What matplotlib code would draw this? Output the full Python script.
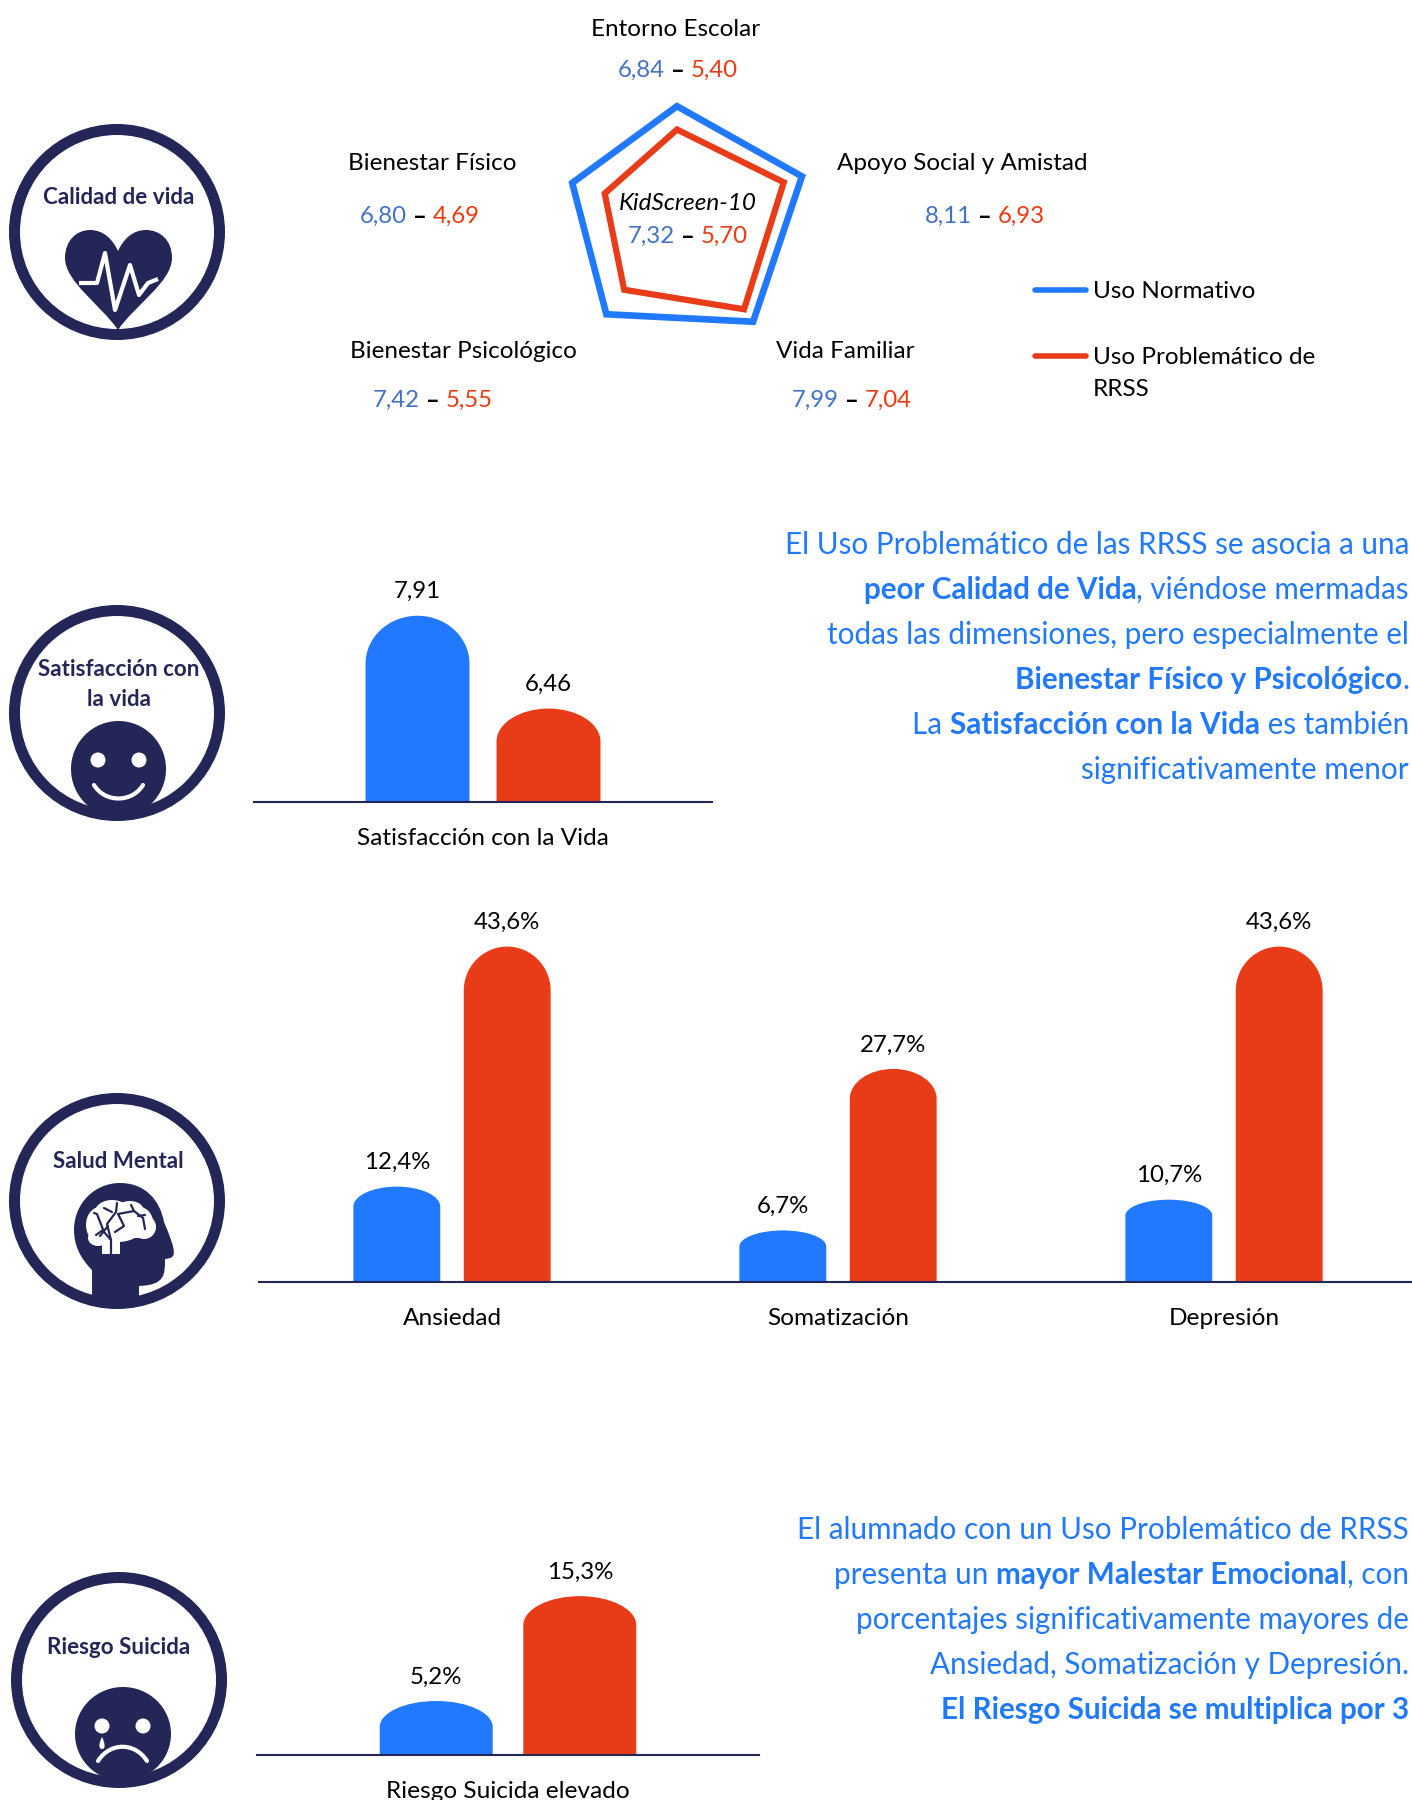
import numpy as np
import matplotlib
matplotlib.use("Agg")
import matplotlib.pyplot as plt
from matplotlib.path import Path
from matplotlib.patches import PathPatch, Ellipse, Circle

W, H = 1412, 1800
plt.rcParams["font.family"] = ["Lato", "DejaVu Sans"]

BLUE = "#2079FF"
RED = "#E83C18"
NAVY = "#252658"
VAL_BLUE = "#4472C4"
VAL_RED = "#F0390F"

# radar data
RADAR_NAMES = ["Entorno Escolar", "Apoyo Social y Amistad", "Vida Familiar",
               "Bienestar Psicológico", "Bienestar Físico"]
RADAR_NORMAL = [6.84, 8.11, 7.99, 7.42, 6.80]
RADAR_PROBLEM = [5.40, 6.93, 7.04, 5.55, 4.69]
KIDSCREEN = [7.32, 5.70]

# bar data
SAT_LABEL = ["Satisfacción con la Vida"]
SAT_NORMAL = [7.91]
SAT_PROBLEM = [6.46]

MENTAL_LABELS = ["Ansiedad", "Somatización", "Depresión"]
MENTAL_NORMAL = [12.4, 6.7, 10.7]
MENTAL_PROBLEM = [43.6, 27.7, 43.6]

SUICIDE_LABEL = ["Riesgo Suicida elevado"]
SUICIDE_NORMAL = [5.2]
SUICIDE_PROBLEM = [15.3]

# text blocks: each line is a list of (text, bold)
TEXT_TOP = [
    [("El Uso Problemático de las RRSS se asocia a una", False)],
    [("peor Calidad de Vida", True), (", viéndose mermadas", False)],
    [("todas las dimensiones, pero especialmente el", False)],
    [("Bienestar Físico y Psicológico", True), (".", False)],
    [("La ", False), ("Satisfacción con la Vida", True), (" es también", False)],
    [("significativamente menor", False)],
]
TEXT_BOTTOM = [
    [("El alumnado con un Uso Problemático de RRSS", False)],
    [("presenta un ", False), ("mayor Malestar Emocional", True), (", con", False)],
    [("porcentajes significativamente mayores de", False)],
    [("Ansiedad, Somatización y Depresión.", False)],
    [("El Riesgo Suicida se multiplica por 3", True)],
]


def px_axes(fig, left, right, top, bottom, **kw):
    return fig.add_axes([left / W, 1 - bottom / H, (right - left) / W, (bottom - top) / H], **kw)


def text_width(fig, s, size, weight="normal"):
    r = fig.canvas.get_renderer()
    a = fig.text(0, 0, "." + s + ".", fontsize=size, fontweight=weight)
    b = fig.text(0, 0, "..", fontsize=size, fontweight=weight)
    w = a.get_window_extent(r).width - b.get_window_extent(r).width
    a.remove()
    b.remove()
    return w


def draw_segments(fig, ax, x, y, segments, size, ha="right"):
    # segments: (text, color, weight), laid out one after the other
    widths = [text_width(fig, s, size, wt) for s, c, wt in segments]
    total = sum(widths)
    pos = x - total if ha == "right" else x - total / 2
    for (s, c, wt), w in zip(segments, widths):
        ax.text(pos, y, s.replace(" ", "\u00a0"), color=c, fontsize=size, fontweight=wt,
                ha="left", va="center")
        pos += w


def score_text(fig, ax, x, y, normal, problem, size=17.3):
    a = f"{normal:.2f}".replace(".", ",")
    b = f"{problem:.2f}".replace(".", ",")
    segs = [(a, VAL_BLUE, "normal"), (" – ", "black", "bold"), (b, VAL_RED, "normal")]
    draw_segments(fig, ax, x, y, segs, size, ha="center")


def rounded_bar(ax, x, width, base, value, ry, color):
    l, r = x - width / 2, x + width / 2
    top = value
    k = 0.5523
    rx = width / 2
    verts = [(l, base), (l, top - ry),
             (l, top - ry + k * ry), (x - k * rx, top), (x, top),
             (x + k * rx, top), (r, top - ry + k * ry), (r, top - ry),
             (r, base), (l, base)]
    codes = [Path.MOVETO, Path.LINETO, Path.CURVE4, Path.CURVE4, Path.CURVE4,
             Path.CURVE4, Path.CURVE4, Path.CURVE4, Path.LINETO, Path.CLOSEPOLY]
    ax.add_patch(PathPatch(Path(verts, codes), facecolor=color, edgecolor="none", zorder=2))


def bar_chart(fig, box, xlim, ylim, labels, normal, problem, width, offset, round_px, suffix, pad):
    left, right, top, bottom = box
    ax = px_axes(fig, left, right, top, bottom, facecolor="none")
    ax.set_xlim(*xlim)
    ax.set_ylim(*ylim)
    per_px = (ylim[1] - ylim[0]) / (bottom - top)
    fmt = "{:.2f}" if suffix == "" else "{:.1f}"
    for i in range(len(labels)):
        for val, sign, col, key in ((normal[i], -1, BLUE, 0), (problem[i], 1, RED, 1)):
            x = i + sign * offset
            rounded_bar(ax, x, width, ylim[0], val, round_px[i][key] * per_px, col)
            ax.text(x, val + 24 * per_px, fmt.format(val).replace(".", ",") + suffix,
                    ha="center", va="center", fontsize=17.3, color="black", clip_on=False)
    ax.set_xticks(range(len(labels)))
    ax.set_xticklabels(labels, fontsize=17.6)
    ax.tick_params(axis="x", length=0, pad=pad)
    ax.set_yticks([])
    for s in ["top", "left", "right"]:
        ax.spines[s].set_visible(False)
    ax.spines["bottom"].set_color(NAVY)
    ax.spines["bottom"].set_linewidth(1.5)
    return ax


def ring(ax, cx, cy, r=108, lw=11):
    ax.add_patch(Circle((cx, cy), r - lw / 2, facecolor="none", edgecolor=NAVY, linewidth=lw * 0.72))


def heart(ax):
    verts = [(118, 330),
             (102, 306), (65, 282), (65, 258),
             (65, 240), (77, 230), (90, 230),
             (104, 230), (113, 240), (118, 251),
             (123, 240), (132, 230), (146, 230),
             (160, 230), (172, 240), (172, 258),
             (172, 282), (134, 306), (118, 330)]
    codes = [Path.MOVETO] + [Path.CURVE4] * 18
    ax.add_patch(PathPatch(Path(verts, codes), facecolor=NAVY, edgecolor="none"))
    xs = [79, 97, 105, 115, 130, 139, 148, 158]
    ys = [283, 283, 253, 310, 265, 295, 283, 279]
    ax.plot(xs, ys, color="white", lw=3, solid_joinstyle="round", solid_capstyle="butt")


def smile(ax):
    ax.add_patch(Ellipse((118.5, 769), 95, 96, facecolor=NAVY, edgecolor="none"))
    for ex in (98, 139):
        ax.add_patch(Ellipse((ex, 760), 15, 15, facecolor="white", edgecolor="none"))
    verts = [(94, 785), (105, 803), (132, 803), (143, 785)]
    ax.add_patch(PathPatch(Path(verts, [Path.MOVETO] + [Path.CURVE4] * 3), facecolor="none",
                           edgecolor="white", lw=3, capstyle="round"))


def frown(ax):
    ax.add_patch(Ellipse((123, 1734), 96, 94, facecolor=NAVY, edgecolor="none"))
    for ex in (102, 143):
        ax.add_patch(Ellipse((ex, 1726), 15, 15, facecolor="white", edgecolor="none"))
    tear = [(102, 1737), (99, 1743), (98, 1749), (102, 1749), (106, 1749), (105, 1743), (102, 1737)]
    ax.add_patch(PathPatch(Path(tear, [Path.MOVETO] + [Path.CURVE4] * 6), facecolor="white", edgecolor="none"))
    verts = [(98, 1761), (110, 1742), (135, 1742), (147, 1761)]
    ax.add_patch(PathPatch(Path(verts, [Path.MOVETO] + [Path.CURVE4] * 3), facecolor="none",
                           edgecolor="white", lw=3, capstyle="round"))


def head(ax):
    verts = [(92, 1305), (92, 1270),
             (80, 1258), (74, 1245), (74, 1230),
             (74, 1203), (95, 1183), (120, 1183),
             (145, 1183), (160, 1200), (164, 1222),
             (177, 1253), (177, 1258), (165, 1259),
             (165, 1275), (165, 1285), (139, 1286),
             (139, 1305), (92, 1305)]
    codes = [Path.MOVETO, Path.LINETO] + [Path.CURVE4] * 3 * 5 + [Path.LINETO, Path.CLOSEPOLY]
    ax.add_patch(PathPatch(Path(verts, codes), facecolor=NAVY, edgecolor="none"))
    # white brain made of lobes
    lobes = [(118, 1222, 56, 40), (100, 1225, 28, 36), (136, 1222, 34, 32),
             (144, 1227, 24, 24), (112, 1212, 34, 24), (130, 1211, 28, 20), (98, 1238, 20, 16)]
    for x, y, w, h in lobes:
        ax.add_patch(Ellipse((x, y), w, h, facecolor="white", edgecolor="none"))
    ax.fill([102, 120, 120, 102], [1236, 1236, 1254, 1254], color="white", lw=0)
    # navy veins
    veins = [[(111, 1254), (111, 1240), (104, 1232), (97, 1214), (94, 1213)],
             [(111, 1240), (107, 1224), (116, 1212), (117, 1203)],
             [(100, 1236), (108, 1226)], [(96, 1235), (103, 1230)],
             [(104, 1208), (112, 1212)],
             [(115, 1232), (124, 1226), (118, 1214), (134, 1211), (143, 1218), (145, 1229)],
             [(134, 1211), (131, 1205)], [(138, 1216), (145, 1215)]]
    for v in veins:
        xs, ys = zip(*v)
        ax.plot(xs, ys, color=NAVY, lw=1.6, solid_capstyle="round", solid_joinstyle="round")


def radar(fig):
    cx, cy, scale = 677, 217, 16.2
    R = 10 * scale
    ax = px_axes(fig, cx - R, cx + R, cy - R, cy + R, projection="polar", facecolor="none")
    ax.set_theta_offset(np.pi / 2)
    ax.set_theta_direction(-1)
    ax.set_ylim(0, 10)
    ax.set_axis_off()
    theta = np.arange(len(RADAR_NAMES)) * 2 * np.pi / len(RADAR_NAMES)
    ax.fill(theta, RADAR_NORMAL, fill=False, edgecolor=BLUE, lw=4.8, joinstyle="miter", clip_on=False)
    ax.fill(theta, RADAR_PROBLEM, fill=False, edgecolor=RED, lw=4.5, joinstyle="miter", clip_on=False)


def main():
    fig = plt.figure(figsize=(W / 100, H / 100), dpi=100, facecolor="white")
    fig.canvas.draw()

    bg = fig.add_axes([0, 0, 1, 1], facecolor="none")
    bg.set_xlim(0, W)
    bg.set_ylim(H, 0)
    bg.set_axis_off()

    # radar section
    radar(fig)
    label_pos = [(676, 30), (962, 164), (845, 351), (463, 351), (432, 164)]
    score_pos = [(678, 70), (985, 216), (852, 400), (433, 400), (420, 216)]
    for name, lp, sp, a, b in zip(RADAR_NAMES, label_pos, score_pos, RADAR_NORMAL, RADAR_PROBLEM):
        bg.text(lp[0], lp[1], name, fontsize=17.5, ha="center", va="center", color="black")
        score_text(fig, bg, sp[0], sp[1], a, b)
    bg.text(688, 203, "KidScreen-10", fontsize=17.5, style="italic", ha="center", va="center")
    score_text(fig, bg, 688, 236, KIDSCREEN[0], KIDSCREEN[1])

    # legend
    bg.plot([1035, 1086], [290, 290], color=BLUE, lw=4, solid_capstyle="round")
    bg.plot([1035, 1086], [356, 356], color=RED, lw=4, solid_capstyle="round")
    bg.text(1093, 292, "Uso Normativo", fontsize=17.5, va="center")
    bg.text(1093, 358, "Uso Problemático de", fontsize=17.5, va="center")
    bg.text(1093, 390, "RRSS", fontsize=17.5, va="center")

    # icons
    for cx, cy in [(117, 232), (117, 713), (117, 1201), (119, 1680)]:
        ring(bg, cx, cy)
    heart(bg)
    smile(bg)
    head(bg)
    frown(bg)
    icon_text = [(119, 198, "Calidad de vida"), (119, 670, "Satisfacción con"), (119, 700, "la vida"),
                 (118, 1161, "Salud Mental"), (119, 1647, "Riesgo Suicida")]
    for x, y, s in icon_text:
        bg.text(x, y, s, fontsize=16.1, fontweight="bold", color=NAVY, ha="center", va="center")

    # text blocks
    for lines, ys in ((TEXT_TOP, [545, 590, 635, 680, 725, 770]),
                      (TEXT_BOTTOM, [1530, 1575, 1620, 1665, 1710])):
        for line, y in zip(lines, ys):
            segs = [(s, BLUE, "bold" if b else "normal") for s, b in line]
            draw_segments(fig, bg, 1409, y, segs, 21.3)

    # bar charts
    bar_chart(fig, (254, 712, 578, 802), (-0.5, 0.5), (5, 8.5), SAT_LABEL, SAT_NORMAL, SAT_PROBLEM,
              0.227, 0.143, [(48, 33)], "", 19)
    bar_chart(fig, (259, 1412, 922, 1282), (-0.5, 2.487), (0, 46.8), MENTAL_LABELS, MENTAL_NORMAL, MENTAL_PROBLEM,
              0.225, 0.143, [(20, 44), (16, 30), (16, 44)], "%", 19)
    bar_chart(fig, (257, 759, 1565, 1755), (-0.5, 0.5), (0, 18.3), SUICIDE_LABEL, SUICIDE_NORMAL, SUICIDE_PROBLEM,
              0.225, 0.143, [(26, 29)], "%", 19)

    fig.savefig("out.png", dpi=100, facecolor="white")


if __name__ == "__main__":
    main()
